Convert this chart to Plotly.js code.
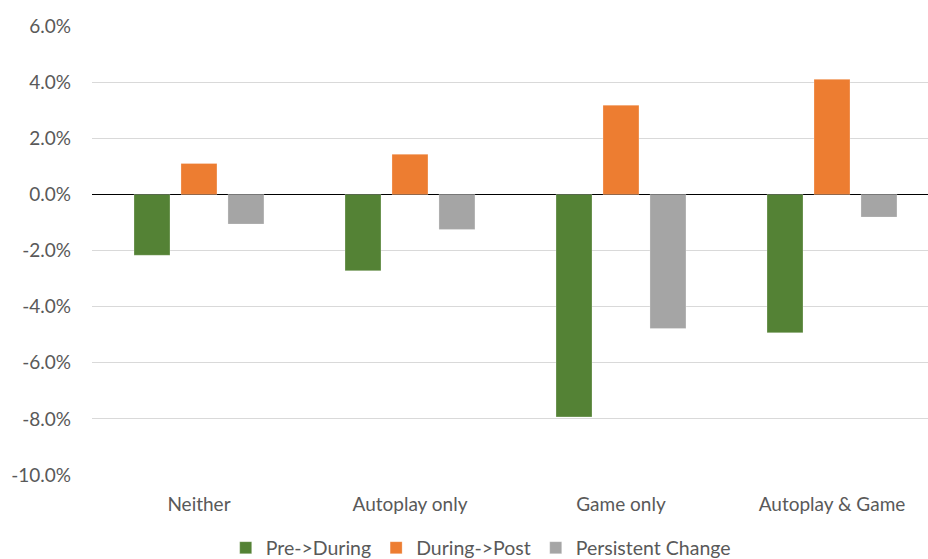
<!DOCTYPE html>
<html>
<head>
<meta charset="utf-8">
<script src="https://cdn.plot.ly/plotly-3.0.1.min.js"></script>
<style>html,body{margin:0;padding:0;background:#fff;}#chart{width:928px;height:559px;}</style>
</head>
<body>
<div id="chart"></div>
<script>
const categories = ["Neither", "Autoplay only", "Game only", "Autoplay & Game"];
const preDuring = [-2.17, -2.72, -7.93, -4.93];
const duringPost = [1.10, 1.43, 3.18, 4.10];
const persistent = [-1.06, -1.25, -4.78, -0.81];
const yTickVals = [6, 4, 2, 0, -2, -4, -6, -8, -10];
const yTickText = ["6.0%", "4.0%", "2.0%", "0.0%", "-2.0%", "-4.0%", "-6.0%", "-8.0%", "-10.0%"];

const font = {family: "Lato, 'Open Sans', sans-serif", size: 19, color: "#595959"};
const mk = (name, y, color) => ({
  type: "bar", name: name, x: categories, y: y,
  marker: {color: color, line: {color: "rgba(255,255,255,0.5)", width: 0.5}},
  hoverinfo: "skip"
});
const data = [
  mk("Pre->During", preDuring, "#548235"),
  mk("During->Post", duringPost, "#ED7D31"),
  mk("Persistent Change", persistent, "#A5A5A5")
];
const layout = {
  width: 928, height: 559,
  margin: {l: 92, r: 0, t: 26, b: 84, pad: 0},
  paper_bgcolor: "#fff", plot_bgcolor: "#fff",
  font: font,
  barmode: "group", bargap: 0.332, bargroupgap: 0.234,
  showlegend: true,
  legend: {orientation: "h", x: 0.518, xref: "container", xanchor: "center",
           y: 1 - 548 / 559, yref: "container", yanchor: "middle",
           font: {family: font.family, size: 19.5, color: "#595959"}, itemwidth: 30, traceorder: "normal"},
  xaxis: {type: "category", range: [-0.507, 3.455], showgrid: false, zeroline: false, automargin: false,
          showline: false, ticks: "", ticklabelstandoff: 16, tickfont: {size: 19}},
  yaxis: {range: [-10, 6], tickvals: yTickVals, ticktext: yTickText, showgrid: true, automargin: false,
          gridcolor: "#D9D9D9", gridwidth: 1, zeroline: true, zerolinecolor: "#000", zerolinewidth: 1,
          showline: false, ticks: "", ticklabelstandoff: 20, tickfont: {size: 19}}
};
Plotly.newPlot("chart", data, layout, {displayModeBar: false, staticPlot: true});
</script>
</body>
</html>
